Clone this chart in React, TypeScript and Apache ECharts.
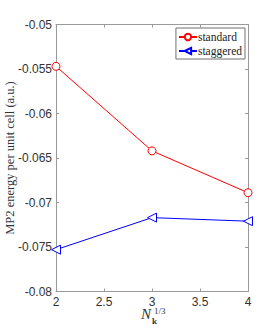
import React, { useEffect, useRef } from "react";
import * as echarts from "echarts";

const nk = [2, 3, 4];
const standard = [-0.0547, -0.0642, -0.0689];
const staggered = [-0.0753, -0.0717, -0.0721];
const seriesNames = ["standard", "staggered"];
const yAxisTitle = "MP2 energy per unit cell (a.u.)";

const axisGray = "#9a9a9a";
const tickFont = "'Liberation Sans', Arial, sans-serif";
const serif = "'Liberation Serif', 'DejaVu Serif', serif";

export default function App() {
  const ref = useRef<HTMLDivElement>(null);
  useEffect(() => {
    if (!ref.current) return;
    const chart = echarts.init(ref.current, null, { renderer: "svg" });
    const fmt = (v: number) => String(+v.toFixed(4));
    const baseAxis = {
      axisLine: { show: true, lineStyle: { color: axisGray, width: 1 } },
      axisTick: { show: true, inside: true, length: 3, lineStyle: { color: axisGray } },
      splitLine: { show: false },
    };
    chart.setOption({
      animation: false,
      backgroundColor: "#fff",
      grid: { left: 56, right: 26, top: 24.5, bottom: 37.5, containLabel: false, outerBoundsMode: "none" },
      legend: {
        right: 29,
        top: 28,
        orient: "vertical",
        data: seriesNames,
        itemWidth: 18,
        itemHeight: 8,
        itemGap: 2,
        padding: [3, 3, 2, 2],
        borderColor: "#707070",
        borderWidth: 1,
        backgroundColor: "#fff",
        textStyle: { fontFamily: serif, fontSize: 11.5, color: "#222", padding: [0, 0, 0, -4] },
      },
      xAxis: [
        {
          type: "value",
          min: 2,
          max: 4,
          interval: 0.5,
          ...baseAxis,
          axisLabel: {
            fontFamily: tickFont,
            fontSize: 12,
            lineHeight: 8,
            color: "#333",
            margin: 6,
            formatter: fmt,
          },
        },
        {
          type: "value",
          position: "top",
          min: 2,
          max: 4,
          interval: 0.5,
          ...baseAxis,
          axisLabel: { show: false },
        },
      ],
      yAxis: [
        {
          type: "value",
          min: -0.08,
          max: -0.05,
          interval: 0.005,
          ...baseAxis,
          axisLabel: { fontFamily: tickFont, fontSize: 12, color: "#333", margin: 4, formatter: fmt },
          name: yAxisTitle,
          nameLocation: "middle",
          nameGap: 40,
          nameMoveOverlap: false,
          nameTextStyle: { fontFamily: serif, fontSize: 12.5, color: "#333" },
        },
        {
          type: "value",
          position: "right",
          min: -0.08,
          max: -0.05,
          interval: 0.005,
          ...baseAxis,
          axisLabel: { show: false },
        },
      ],
      series: [
        {
          name: seriesNames[0],
          type: "line",
          data: nk.map((x, i) => [x, standard[i]]),
          symbol: "circle",
          symbolSize: 8,
          showAllSymbol: true,
          lineStyle: { color: "#ff0000", width: 1 },
          itemStyle: { color: "#fff", borderColor: "#ff0000", borderWidth: 1 },
          color: "#ff0000",
          clip: false,
        },
        {
          name: seriesNames[1],
          type: "line",
          data: nk.map((x, i) => [x, staggered[i]]),
          symbol: "triangle",
          symbolRotate: 90,
          symbolSize: 9,
          lineStyle: { color: "#0000ff", width: 1 },
          itemStyle: { color: "#fff", borderColor: "#0000ff", borderWidth: 1 },
          color: "#0000ff",
          clip: false,
        },
      ],
      graphic: [
        {
          type: "text",
          left: 141,
          top: 306.5,
          style: { text: "N", font: `italic 15px ${serif}`, fill: "#333" },
        },
        {
          type: "text",
          left: 154,
          top: 306.5,
          style: { text: "1/3", font: `9px ${serif}`, fill: "#333" },
        },
        {
          type: "text",
          left: 152,
          top: 316.5,
          style: { text: "k", font: `bold 9px ${serif}`, fill: "#333" },
        },
      ],
    });
    return () => chart.dispose();
  }, []);
  return <div ref={ref} style={{ width: 274, height: 329, position: "absolute", left: 0, top: 0 }} />;
}
